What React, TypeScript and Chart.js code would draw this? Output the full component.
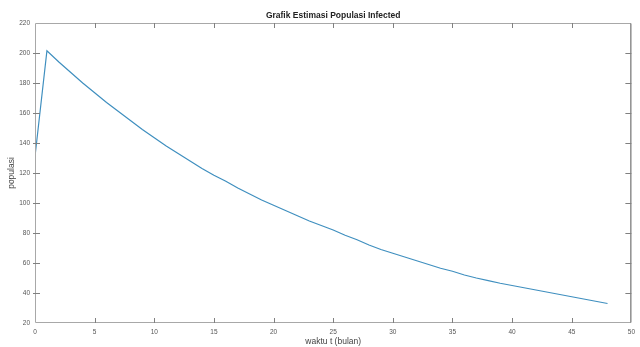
import React, { useEffect, useRef } from "react";
import { Chart, registerables } from "chart.js";

Chart.register(...registerables);

const chartTitle = "Grafik Estimasi Populasi Infected";
const xAxisLabel = "waktu t (bulan)";
const yAxisLabel = "populasi";

const months = [
  0, 1, 2, 3, 4, 5, 6, 7, 8, 9, 10, 11, 12, 13, 14, 15, 16, 17, 18, 19, 20, 21, 22, 23, 24,
  25, 26, 27, 28, 29, 30, 31, 32, 33, 34, 35, 36, 37, 38, 39, 40, 41, 42, 43, 44, 45, 46, 47, 48,
];

const infected = [
  131, 201.5, 194, 187, 180, 173.5, 167, 161, 155, 149, 143.5, 138, 133, 128, 123, 118.5,
  114.5, 110, 106, 102, 98.5, 95, 91.5, 88, 85, 82, 78.5, 75.5, 72, 69, 66.5, 64, 61.5, 59,
  56.5, 54.5, 52, 50, 48.3, 46.5, 45, 43.5, 42, 40.5, 39, 37.5, 36, 34.5, 33,
];

const xMin = 0;
const xMax = 50;
const xStep = 5;
const yMin = 20;
const yMax = 220;
const yStep = 20;

const FONT = "'Liberation Sans', Arial, sans-serif";

const matlabBox = {
  id: "matlabBox",
  afterDraw(chart: any) {
    const { ctx, chartArea } = chart;
    const { left, right, top, bottom } = chartArea;
    const xs = chart.scales.x;
    const ys = chart.scales.y;
    ctx.save();
    // box
    ctx.lineWidth = 1;
    ctx.strokeStyle = "#a8a8a8";
    ctx.beginPath();
    ctx.moveTo(left + 0.5, top + 0.5);
    ctx.lineTo(right - 0.5, top + 0.5);
    ctx.moveTo(left + 0.5, top + 0.5);
    ctx.lineTo(left + 0.5, bottom - 0.5);
    ctx.lineTo(right - 0.5, bottom - 0.5);
    ctx.stroke();
    ctx.strokeStyle = "#555555";
    ctx.beginPath();
    ctx.moveTo(right - 0.5, top + 0.5);
    ctx.lineTo(right - 0.5, bottom - 0.5);
    ctx.stroke();
    // inward ticks
    const tl = 5;
    ctx.strokeStyle = "#808080";
    ctx.beginPath();
    xs.ticks.forEach((t: any) => {
      const px = Math.round(xs.getPixelForValue(t.value)) + 0.5;
      if (t.value === xMin || t.value === xMax) return;
      ctx.moveTo(px, bottom);
      ctx.lineTo(px, bottom - tl);
      ctx.moveTo(px, top);
      ctx.lineTo(px, top + tl);
    });
    ys.ticks.forEach((t: any) => {
      const py = Math.round(ys.getPixelForValue(t.value)) + 0.5;
      if (t.value === yMin || t.value === yMax) return;
      ctx.moveTo(left - 2, py);
      ctx.lineTo(left + tl, py);
      ctx.moveTo(right, py);
      ctx.lineTo(right - tl - 1, py);
    });
    ctx.stroke();
    // texts
    ctx.fillStyle = "#222222";
    ctx.textAlign = "center";
    ctx.textBaseline = "middle";
    ctx.font = `bold 8.5px ${FONT}`;
    ctx.fillText(chartTitle, (left + right) / 2, 16);
    ctx.fillStyle = "#444444";
    ctx.font = `8.5px ${FONT}`;
    ctx.fillText(xAxisLabel, (left + right) / 2, 342);
    ctx.translate(12, (top + bottom) / 2);
    ctx.rotate(-Math.PI / 2);
    ctx.fillText(yAxisLabel, 0, 0);
    ctx.restore();
  },
};

export default function App() {
  const ref = useRef<HTMLCanvasElement>(null);
  useEffect(() => {
    if (!ref.current) return;
    const chart = new Chart(ref.current, {
      type: "line",
      data: {
        datasets: [
          {
            data: months.map((m, i) => ({ x: m, y: infected[i] })),
            borderColor: "#3f8fbf",
            borderWidth: 1.2,
            pointRadius: 0,
            tension: 0,
            fill: false,
          },
        ],
      },
      options: {
        responsive: false,
        animation: false,
        layout: { padding: { left: 0, right: 6, top: 23, bottom: 0 } },
        plugins: { legend: { display: false }, title: { display: false }, tooltip: { enabled: false } },
        scales: {
          x: {
            type: "linear",
            min: xMin,
            max: xMax,
            grid: { display: false, drawTicks: false },
            border: { display: false },
            ticks: {
              stepSize: xStep,
              padding: 5,
              color: "#555555",
              font: { family: FONT, size: 6.5 },
              maxRotation: 0,
            },
            afterFit: (s: any) => {
              s.height = 24;
            },
          },
          y: {
            min: yMin,
            max: yMax,
            grid: { display: false, drawTicks: false },
            border: { display: false },
            ticks: {
              stepSize: yStep,
              padding: 5,
              color: "#555555",
              font: { family: FONT, size: 6.5 },
            },
            afterFit: (s: any) => {
              s.width = 35;
            },
          },
        },
      },
      plugins: [matlabBox],
    });
    return () => chart.destroy();
  }, []);
  return (
    <div style={{ position: "absolute", left: 0, top: 0, width: 640, height: 347, background: "#fff" }}>
      <canvas ref={ref} width={640} height={347} style={{ display: "block" }} />
    </div>
  );
}
